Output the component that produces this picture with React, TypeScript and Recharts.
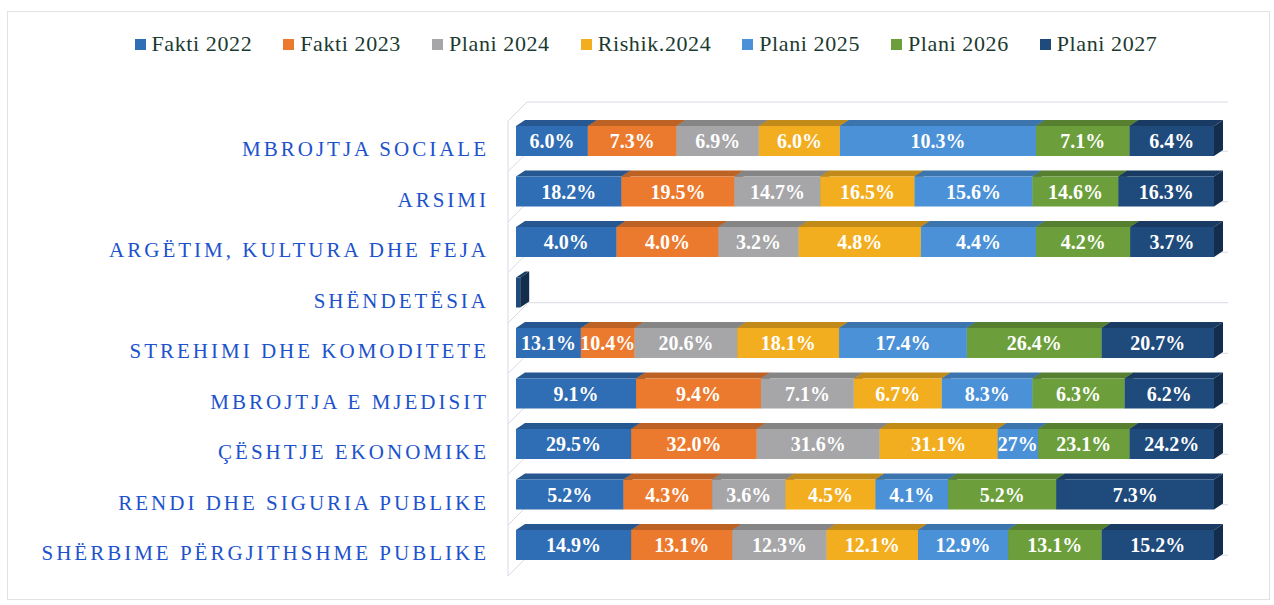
import React from 'react';
import { BarChart, Bar, XAxis, YAxis, Legend, LabelList } from 'recharts';

const categories = [
  'MBROJTJA SOCIALE',
  'ARSIMI',
  'ARGËTIM, KULTURA DHE FEJA',
  'SHËNDETËSIA',
  'STREHIMI DHE KOMODITETE',
  'MBROJTJA E MJEDISIT',
  'ÇËSHTJE EKONOMIKE',
  'RENDI DHE SIGURIA PUBLIKE',
  'SHËRBIME PËRGJITHSHME PUBLIKE',
];

const seriesNames = ['Fakti 2022', 'Fakti 2023', 'Plani 2024', 'Rishik.2024', 'Plani 2025', 'Plani 2026', 'Plani 2027'];
const seriesKeys = ['f22', 'f23', 'p24', 'r24', 'p25', 'p26', 'p27'];
const seriesColors = ['#2f6db4', '#ec7a2e', '#a6a6a8', '#f2ae1f', '#4b91d8', '#6c9f3c', '#1f4a7c'];

// segment lengths (share of each 100% bar)
const fakti2022 = [10.3, 15.1, 14.4, 0, 9.3, 17.2, 16.5, 15.4, 16.5];
const fakti2023 = [12.7, 16.2, 14.6, 0, 7.7, 17.9, 18.0, 12.7, 14.5];
const plani2024 = [11.8, 12.3, 11.5, 0, 14.7, 13.3, 17.6, 10.5, 13.5];
const rishik2024 = [11.6, 13.5, 17.5, 0, 14.6, 12.6, 16.9, 12.9, 13.1];
const plani2025 = [28.1, 16.9, 16.5, 0, 18.3, 13.0, 5.8, 10.4, 12.9];
const plani2026 = [13.4, 12.3, 13.5, 0, 19.3, 13.2, 13.1, 15.5, 13.4];
const plani2027 = [12.1, 13.7, 12.0, 0.6, 16.1, 12.8, 12.1, 22.6, 16.1];

// printed labels
const fakti2022Labels = ['6.0%', '18.2%', '4.0%', '', '13.1%', '9.1%', '29.5%', '5.2%', '14.9%'];
const fakti2023Labels = ['7.3%', '19.5%', '4.0%', '', '10.4%', '9.4%', '32.0%', '4.3%', '13.1%'];
const plani2024Labels = ['6.9%', '14.7%', '3.2%', '', '20.6%', '7.1%', '31.6%', '3.6%', '12.3%'];
const rishik2024Labels = ['6.0%', '16.5%', '4.8%', '', '18.1%', '6.7%', '31.1%', '4.5%', '12.1%'];
const plani2025Labels = ['10.3%', '15.6%', '4.4%', '', '17.4%', '8.3%', '27%', '4.1%', '12.9%'];
const plani2026Labels = ['7.1%', '14.6%', '4.2%', '', '26.4%', '6.3%', '23.1%', '5.2%', '13.1%'];
const plani2027Labels = ['6.4%', '16.3%', '3.7%', '', '20.7%', '6.2%', '24.2%', '7.3%', '15.2%'];

const seriesValues = [fakti2022, fakti2023, plani2024, rishik2024, plani2025, plani2026, plani2027];
const seriesLabels = [fakti2022Labels, fakti2023Labels, plani2024Labels, rishik2024Labels, plani2025Labels, plani2026Labels, plani2027Labels];

const data = categories.map((name, i) => {
  const row: Record<string, string | number> = { name };
  seriesKeys.forEach((k, s) => {
    row[k] = seriesValues[s][i];
    row[k + '_label'] = seriesLabels[s][i];
  });
  return row;
});

const SERIF = '"Liberation Serif", "Times New Roman", serif';
const W = 1274;
const H = 605;
const PLOT_LEFT = 516;
const PLOT_RIGHT = 1214;
const PLOT_TOP = 116;
const BAND = 50.5;

function shade(hex: string, f: number) {
  const n = parseInt(hex.slice(1), 16);
  const r = Math.round(((n >> 16) & 255) * f);
  const g = Math.round(((n >> 8) & 255) * f);
  const b = Math.round((n & 255) * f);
  return `rgb(${r},${g},${b})`;
}

function Bar3D(props: any) {
  const { x, y, width, height, fill } = props;
  if (!width || width <= 0) return null;
  const dx = 9;
  const dy = 6;
  return (
    <g>
      <polygon
        points={`${x},${y} ${x + dx},${y - dy} ${x + width + dx},${y - dy} ${x + width},${y}`}
        fill={shade(fill, 0.8)}
      />
      <polygon
        points={`${x + width},${y} ${x + width + dx},${y - dy} ${x + width + dx},${y + height - dy} ${x + width},${y + height}`}
        fill={shade(fill, 0.62)}
      />
      <rect x={x} y={y} width={width} height={height} fill={fill} />
    </g>
  );
}

function renderLabel(p: any) {
  const { x, y, width, height, value } = p;
  if (!value) return null;
  return (
    <text
      x={x + width / 2}
      y={y + height / 2 + 7}
      textAnchor="middle"
      fill="#ffffff"
      fontFamily={SERIF}
      fontWeight="bold"
      fontSize={20}
    >
      {value}
    </text>
  );
}

function CategoryTick(p: any) {
  const { x, y, payload } = p;
  return (
    <text
      x={x}
      y={y + 15}
      textAnchor="end"
      fill="#1c52cc"
      fontFamily={SERIF}
      fontSize={21}
      letterSpacing={3}
    >
      {payload.value}
    </text>
  );
}

function LegendRow() {
  return (
    <div
      style={{
        display: 'flex',
        justifyContent: 'center',
        alignItems: 'center',
        height: 34,
        gap: 31,
        paddingLeft: 18,
        boxSizing: 'border-box',
        fontFamily: SERIF,
        fontSize: 22,
        color: '#1b3a30',
      }}
    >
      {seriesNames.map((n, i) => (
        <div key={n} style={{ display: 'flex', alignItems: 'center' }}>
          <span style={{ width: 11, height: 11, background: seriesColors[i], marginRight: 6, display: 'inline-block' }} />
          <span style={{ letterSpacing: 0.6 }}>{n}</span>
        </div>
      ))}
    </div>
  );
}

function Walls() {
  const rows = categories.map((_, i) => PLOT_TOP + BAND * i + BAND / 2);
  const bounds = categories.map((_, i) => PLOT_TOP + BAND * i);
  const stroke = '#d9d9e4';
  return (
    <svg width={W} height={H} style={{ position: 'absolute', left: 0, top: 0 }}>
      <rect x={7.5} y={11.5} width={1262} height={588} fill="none" stroke="#e2e2e6" />
      <line x1={527} y1={102} x2={1228} y2={102} stroke={stroke} />
      <line x1={508} y1={121} x2={527} y2={102} stroke={stroke} />
      <line x1={508} y1={121} x2={508} y2={576} stroke={stroke} />
      <line x1={508} y1={576} x2={527} y2={557} stroke={stroke} />
      {bounds.slice(1).map((b, i) => (
        <line key={'d' + i} x1={508} y1={b + 5} x2={527} y2={b - 14} stroke={stroke} />
      ))}
      {rows.map((c, i) => (
        <line key={'h' + i} x1={518} y1={c + 10} x2={1228} y2={c + 10} stroke={stroke} />
      ))}
    </svg>
  );
}

export default function App() {
  return (
    <div style={{ position: 'absolute', left: 0, top: 0, width: W, height: H, background: '#ffffff' }}>
      <Walls />
      <div style={{ position: 'absolute', left: 0, top: 0 }}>
        <BarChart
          width={W}
          height={H}
          data={data}
          layout="vertical"
          margin={{ top: 82, right: W - PLOT_RIGHT, bottom: H - PLOT_TOP - BAND * 9, left: 0 }}
        >
          <XAxis type="number" domain={[0, 100]} hide />
          <YAxis
            type="category"
            dataKey="name"
            width={PLOT_LEFT}
            axisLine={false}
            tickLine={false}
            tickSize={0}
            tickMargin={27}
            tick={<CategoryTick />}
            interval={0}
          />
          <Legend verticalAlign="top" content={<LegendRow />} wrapperStyle={{ top: 27, left: 0, width: W }} />
          {seriesKeys.map((k, i) => (
            <Bar
              key={k}
              dataKey={k}
              name={seriesNames[i]}
              stackId="s"
              fill={seriesColors[i]}
              barSize={30}
              shape={<Bar3D />}
              isAnimationActive={false}
            >
              <LabelList dataKey={k + '_label'} content={renderLabel} />
            </Bar>
          ))}
        </BarChart>
      </div>
    </div>
  );
}
